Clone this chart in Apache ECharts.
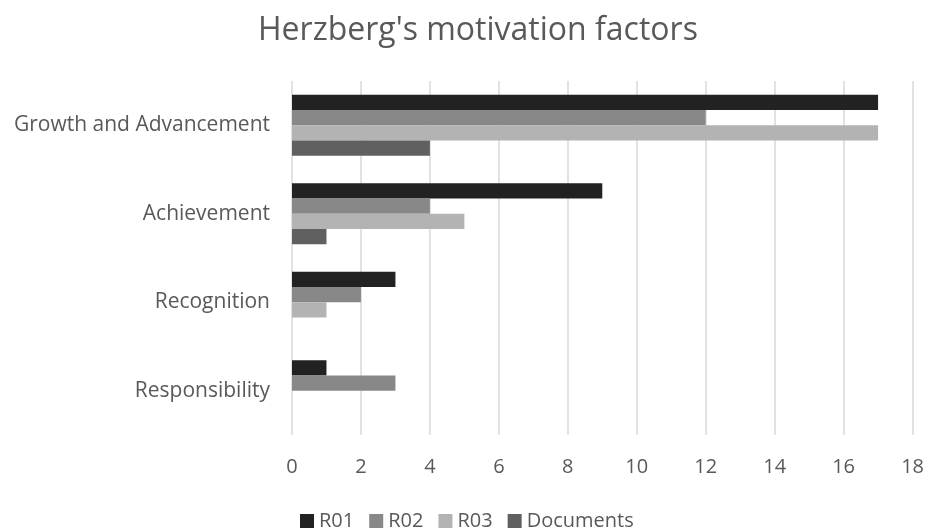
<!DOCTYPE html>
<html><head><meta charset="utf-8">
<script src="https://cdn.jsdelivr.net/npm/echarts@6/dist/echarts.min.js"></script>
<style>html,body{margin:0;padding:0;background:#fff}#c{width:927px;height:529px}</style>
</head><body><div id="c"></div>
<script>
var categories = ['Growth and Advancement', 'Achievement', 'Recognition', 'Responsibility'];
var seriesNames = ['R01', 'R02', 'R03', 'Documents'];
var r01 = [17, 9, 3, 1];
var r02 = [12, 4, 2, 3];
var r03 = [17, 5, 1, 0];
var documents = [4, 1, 0, 0];
var xTicks = [0, 2, 4, 6, 8, 10, 12, 14, 16, 18];
var colors = ['#222222', '#888888', '#b3b3b3', '#606060'];
var values = [r01, r02, r03, documents];
var FONT = 'Open Sans';
var chart = echarts.init(document.getElementById('c'));
chart.setOption({
  animation: false,
  title: { text: "Herzberg's motivation factors", left: 253, top: 10,
    textStyle: { fontFamily: FONT, fontSize: 32, fontWeight: 'normal', color: '#595959' } },
  legend: { top: 506, left: 295, itemWidth: 14, itemHeight: 14, itemGap: 15, icon: 'rect',
    textStyle: { fontFamily: FONT, fontSize: 20, color: '#595959' },
    data: seriesNames },
  grid: { left: 292, right: 14, top: 81, bottom: 94, containLabel: false },
  xAxis: { type: 'value', min: 0, max: 18, interval: 2,
    axisLine: { show: false }, axisTick: { show: false },
    splitLine: { lineStyle: { color: '#d9d9d9', width: 1.5 } },
    axisLabel: { fontFamily: FONT, fontSize: 20, color: '#595959', margin: 22,
      formatter: function (v) { return xTicks.indexOf(v) >= 0 ? String(v) : ''; } } },
  yAxis: { type: 'category', data: categories, inverse: true,
    axisLine: { show: false }, axisTick: { show: false },
    axisLabel: { fontFamily: FONT, fontSize: 21, color: '#595959', margin: 22 } },
  series: seriesNames.map(function (n, i) {
    return { name: n, type: 'bar', data: values[i], barGap: '0%', barCategoryGap: '31%',
      itemStyle: { color: colors[i] } };
  })
});
</script></body></html>
